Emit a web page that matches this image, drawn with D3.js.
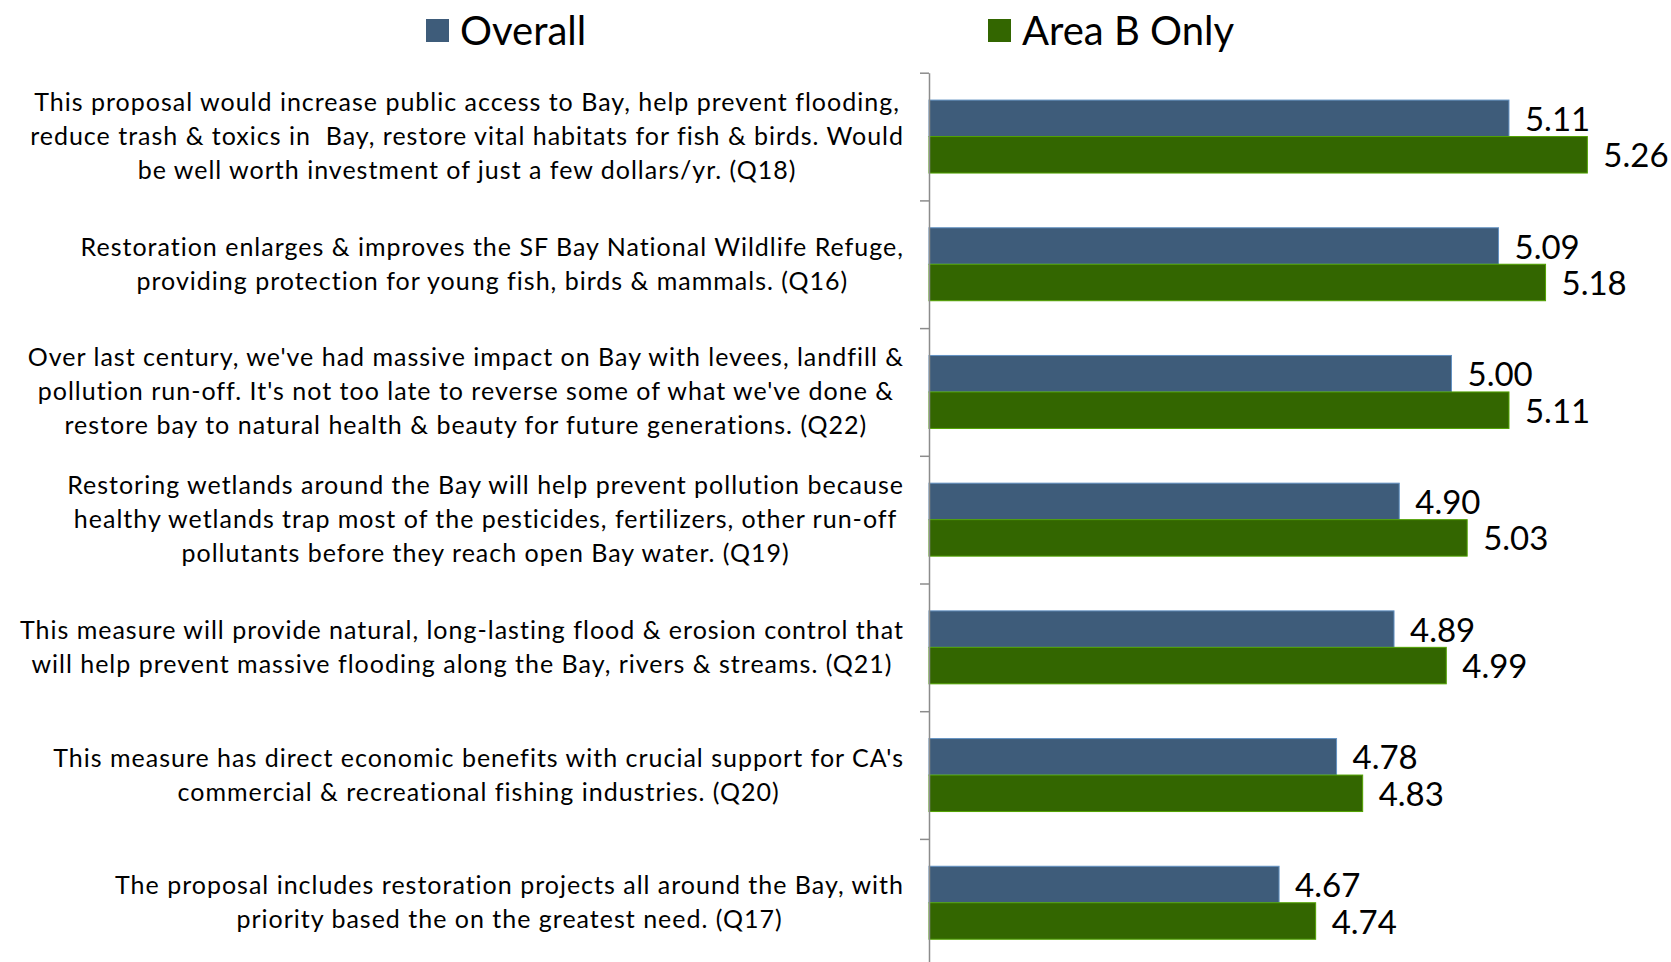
<!DOCTYPE html>
<html>
<head>
<meta charset="utf-8">
<script src="https://cdn.jsdelivr.net/npm/d3@7"></script>
<style>
body { margin: 0; background: #fff; }
text { font-family: Lato, "Open Sans", sans-serif; fill: #000; white-space: pre; }
</style>
</head>
<body>
<svg></svg>
<script>
//Canvas settings
var width = 1671;
var height = 962;

//Chart data
var categories = [
	["This proposal would increase public access to Bay, help prevent flooding,",
	 "reduce trash & toxics in  Bay, restore vital habitats for fish & birds. Would",
	 "be well worth investment of just a few dollars/yr. (Q18)"],
	["Restoration enlarges & improves the SF Bay National Wildlife Refuge,",
	 "providing protection for young fish, birds & mammals. (Q16)"],
	["Over last century, we've had massive impact on Bay with levees, landfill &",
	 "pollution run-off. It's not too late to reverse some of what we've done &",
	 "restore bay to natural health & beauty for future generations. (Q22)"],
	["Restoring wetlands around the Bay will help prevent pollution because",
	 "healthy wetlands trap most of the pesticides, fertilizers, other run-off",
	 "pollutants before they reach open Bay water. (Q19)"],
	["This measure will provide natural, long-lasting flood & erosion control that",
	 "will help prevent massive flooding along the Bay, rivers & streams. (Q21)"],
	["This measure has direct economic benefits with crucial support for CA's",
	 "commercial & recreational fishing industries. (Q20)"],
	["The proposal includes restoration projects all around the Bay, with",
	 "priority based the on the greatest need. (Q17)"]
];
var overall = [5.11, 5.09, 5.00, 4.90, 4.89, 4.78, 4.67];
var areaB = [5.26, 5.18, 5.11, 5.03, 4.99, 4.83, 4.74];
var seriesNames = ["Overall", "Area B Only"];
var seriesColors = ["#3e5c7a", "#336600"];
var xDomain = [4, 5.4];

//Plot area
var plotLeft = 929;
var plotTop = 72.7;
var plotBottom = 966.6;
var pxPerUnit = 522.5;

var svg = d3.select("svg")
	.attr("width", width)
	.attr("height", height);

var x = d3.scaleLinear()
	.domain(xDomain)
	.range([plotLeft, plotLeft + (xDomain[1] - xDomain[0]) * pxPerUnit]);

var y = d3.scaleBand()
	.domain(d3.range(categories.length))
	.range([plotTop, plotBottom]);

//two bars per group, excel style gap
var ySub = d3.scaleBand()
	.domain([0, 1])
	.range([0, y.bandwidth()])
	.paddingOuter(0.75);

var rows = categories.map(function(c, i) {
	return { i: i, lines: c, values: [overall[i], areaB[i]] };
});

//bars
var groups = svg.selectAll("g.group")
	.data(rows)
	.enter()
		.append("g")
	.attr("class", "group")
	.attr("transform", function(d) { return "translate(0," + y(d.i) + ")"; });

groups.selectAll("rect")
	.data(function(d) { return d.values.map(function(v, s) { return { v: v, s: s }; }); })
	.enter()
		.append("rect")
	.attr("x", x(xDomain[0]))
	.attr("y", function(d) { return ySub(d.s); })
	.attr("width", function(d) { return x(d.v) - x(xDomain[0]); })
	.attr("height", ySub.bandwidth())
	.attr("fill", function(d) { return seriesColors[d.s]; })
	.attr("stroke", function(d) { return d3.color(seriesColors[d.s]).brighter(1.3); })
	.attr("stroke-width", 1);

//value labels
groups.selectAll("text.value")
	.data(function(d) { return d.values.map(function(v, s) { return { v: v, s: s }; }); })
	.enter()
		.append("text")
	.attr("class", "value")
	.attr("x", function(d) { return x(d.v) + 16; })
	.attr("y", function(d) { return ySub(d.s) + ySub.bandwidth() / 2; })
	.attr("dy", "0.38em")
	.style("font-size", "33px")
	.text(function(d) { return d3.format(".2f")(d.v); });

//category labels, lines centred inside a right aligned block
var labelRight = 904;
var lineHeight = 34;
groups.each(function(d) {
	var g = d3.select(this);
	var n = d.lines.length;
	var texts = g.selectAll("text.cat")
		.data(d.lines)
		.enter()
			.append("text")
		.attr("class", "cat")
		.attr("text-anchor", "middle")
		.style("font-size", "25px")
		.style("letter-spacing", "1px")
		.attr("y", function(l, k) { return y.bandwidth() / 2 + (k - (n - 1) / 2) * lineHeight + 8.5; })
		.text(function(l) { return l; });
	var maxW = 0;
	texts.each(function() { maxW = Math.max(maxW, this.getComputedTextLength()); });
	texts.attr("x", labelRight - maxW / 2);
});

//axis with ticks between categories
var yTicks = d3.scaleLinear()
	.domain([0, categories.length])
	.range([plotTop, plotBottom]);

var axis = svg.append("g")
	.attr("transform", "translate(" + plotLeft + ",0)")
	.call(d3.axisLeft(yTicks)
		.tickValues(d3.range(categories.length + 1))
		.tickSizeInner(9)
		.tickSizeOuter(0)
		.tickFormat(""));
axis.selectAll("path, line")
	.attr("stroke", "#8c8c8c")
	.attr("stroke-width", 1.5);

//legend
var legendX = [426, 988];
var legend = svg.selectAll("g.legend")
	.data(seriesNames)
	.enter()
		.append("g")
	.attr("class", "legend")
	.attr("transform", function(d, i) { return "translate(" + legendX[i] + ",19)"; });

legend.append("rect")
	.attr("width", 23)
	.attr("height", 23)
	.attr("fill", function(d, i) { return seriesColors[i]; });

legend.append("text")
	.attr("x", 34)
	.attr("y", 25.5)
	.style("font-size", "40px")
	.text(function(d) { return d; });
</script>
</body>
</html>
